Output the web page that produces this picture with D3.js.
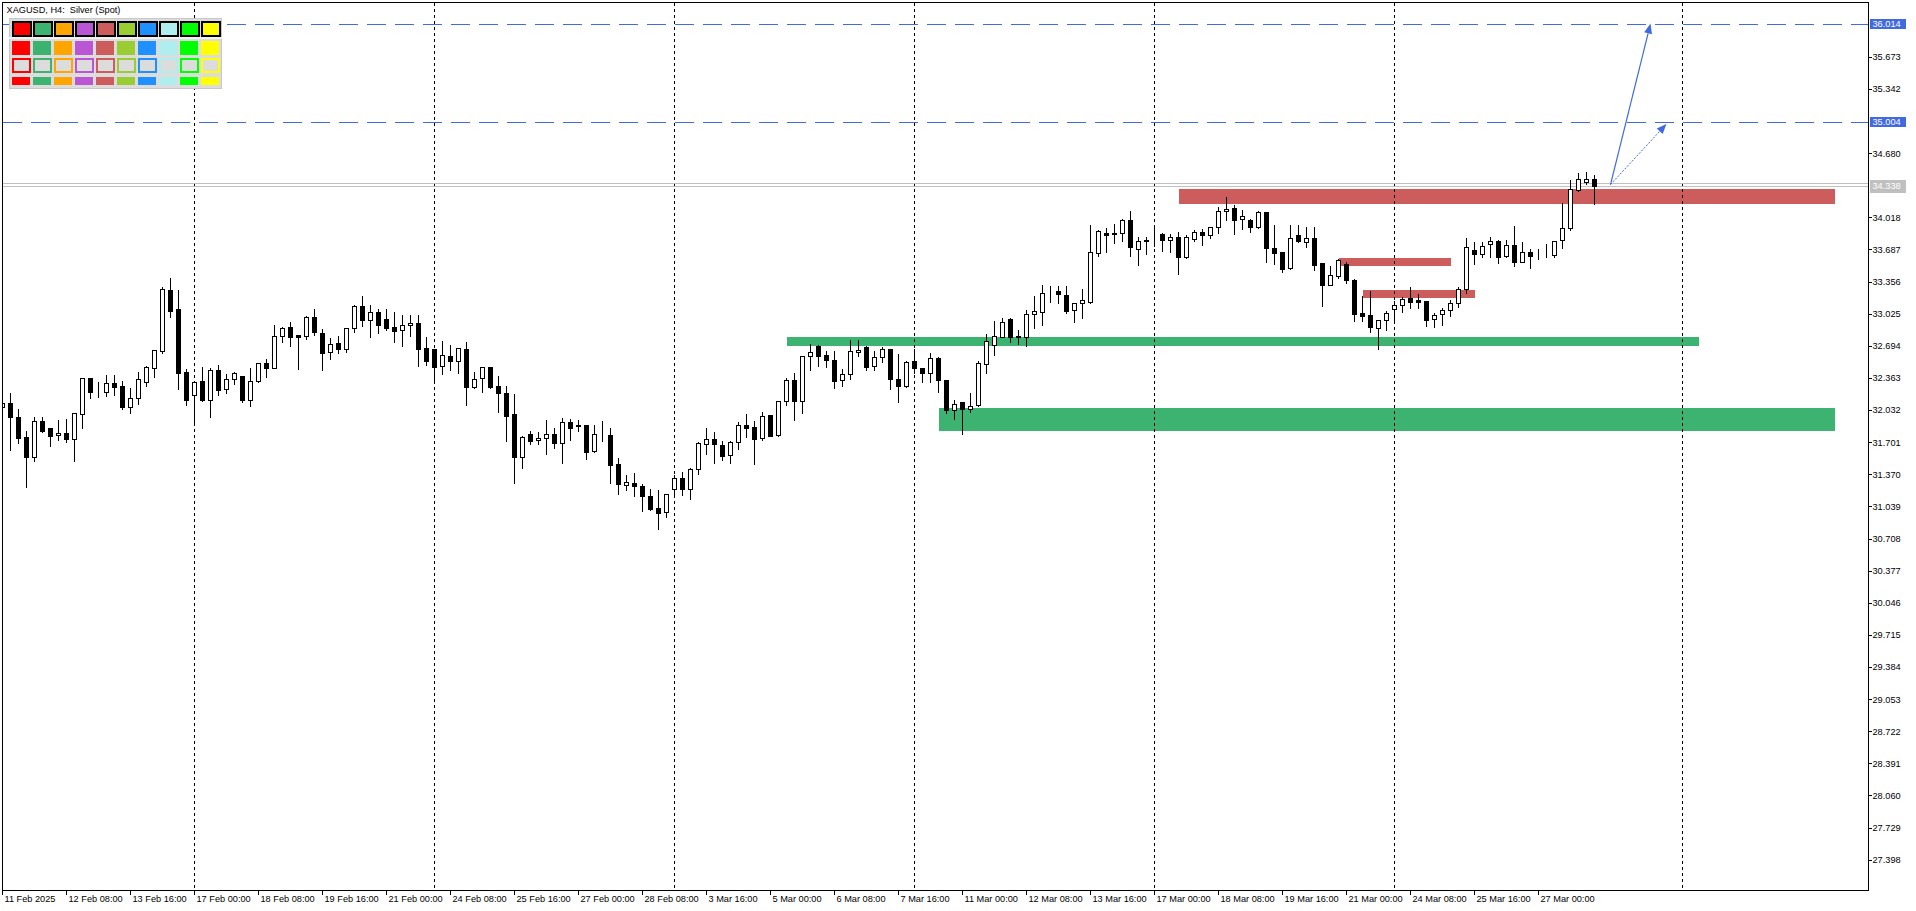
<!DOCTYPE html>
<html><head><meta charset="utf-8">
<script src="https://cdn.jsdelivr.net/npm/d3@7"></script>
<style>
html,body{margin:0;padding:0;background:#fff;overflow:hidden;}
svg{display:block;}
text{font-family:"Liberation Sans",Arial,sans-serif;}
</style></head><body>
<svg id="chart" width="1916" height="911"></svg>
<script>
// ---------------- DATA ----------------
const symbolTitle = "XAGUSD, H4:  Silver (Spot)";

const open = [32.063,32.101,31.957,31.751,31.551,31.916,31.843,31.771,31.792,31.736,
31.994,32.358,32.220,32.220,32.307,32.279,32.066,32.153,32.317,32.468,
32.643,33.266,33.069,32.420,32.190,32.327,32.138,32.444,32.245,32.348,
32.382,32.138,32.331,32.516,32.468,32.791,32.884,32.805,32.797,32.990,
32.826,32.632,32.722,32.664,32.874,33.104,32.962,33.038,32.970,32.887,
32.853,32.904,32.928,32.671,32.660,32.482,32.588,32.540,32.660,32.272,
32.358,32.475,32.279,32.204,31.988,31.545,31.782,31.720,31.741,31.782,
31.695,31.905,31.874,31.874,31.613,31.782,31.775,31.476,31.256,31.280,
31.249,31.146,31.022,30.978,31.215,31.328,31.221,31.421,31.679,31.730,
31.672,31.565,31.699,31.874,31.854,31.740,31.977,31.777,32.121,32.338,
32.121,32.585,32.691,32.596,32.547,32.338,32.399,32.627,32.678,32.482,
32.575,32.657,32.348,32.276,32.534,32.461,32.410,32.564,32.338,32.029,
32.111,32.045,32.080,32.509,32.699,32.784,32.970,32.798,32.781,33.018,
33.039,33.235,33.259,33.214,33.059,33.131,33.148,33.647,33.856,33.853,
33.853,33.987,33.694,33.777,33.843,33.843,33.788,33.812,33.612,33.797,
33.866,33.838,33.915,34.080,34.110,33.997,33.987,33.915,34.069,33.698,
33.657,33.492,33.832,33.766,33.801,33.544,33.324,33.416,33.537,33.372,
33.031,33.007,32.873,32.956,33.069,33.111,33.186,33.166,33.155,32.967,
33.018,33.059,33.131,33.276,33.681,33.637,33.740,33.774,33.622,33.729,
33.554,33.657,33.632,33.632,33.632,33.781,33.904,34.299,34.385,34.412];

const high = [32.110,32.214,32.050,31.826,31.970,31.970,31.856,31.939,31.946,32.014,
32.362,32.368,32.331,32.403,32.403,32.341,32.266,32.434,32.496,32.660,
33.310,33.406,33.279,32.461,32.331,32.485,32.472,32.503,32.410,32.434,
32.386,32.472,32.529,32.564,32.918,32.897,32.949,32.807,33.010,33.082,
32.874,32.787,32.802,32.880,33.125,33.221,33.125,33.080,33.080,33.052,
33.024,33.021,33.021,32.794,32.665,32.753,32.712,32.678,32.743,32.434,
32.475,32.485,32.392,32.289,32.207,31.778,31.826,31.816,31.939,31.857,
31.959,31.953,31.942,31.880,31.887,31.929,31.854,31.548,31.373,31.393,
31.280,31.232,31.215,31.174,31.373,31.404,31.445,31.713,31.857,31.816,
31.723,31.720,31.922,31.998,31.929,32.022,31.985,32.125,32.372,32.423,
32.599,32.722,32.712,32.650,32.650,32.464,32.763,32.763,32.698,32.650,
32.688,32.660,32.615,32.544,32.667,32.472,32.629,32.588,32.348,32.145,
32.115,32.217,32.544,32.822,32.959,32.990,32.990,32.863,33.073,33.214,
33.331,33.324,33.320,33.320,33.134,33.289,33.949,33.894,33.918,33.959,
34.011,34.093,33.825,33.825,33.928,33.863,33.856,33.873,33.846,33.894,
33.907,33.925,34.134,34.240,34.155,34.103,34.011,34.093,34.072,33.949,
33.660,33.949,33.949,33.928,33.928,33.547,33.526,33.595,33.564,33.393,
33.217,33.269,32.956,33.062,33.166,33.207,33.310,33.235,33.158,33.039,
33.093,33.173,33.310,33.815,33.773,33.773,33.825,33.791,33.791,33.938,
33.773,33.701,33.701,33.753,33.773,34.172,34.412,34.481,34.495,34.464];

const low = [32.040,31.620,31.689,31.242,31.510,31.805,31.664,31.723,31.705,31.510,
31.850,32.153,32.166,32.179,32.186,32.042,32.004,32.094,32.279,32.372,
32.622,32.993,32.248,32.080,31.877,32.128,31.963,32.186,32.210,32.303,
32.117,32.076,32.317,32.375,32.462,32.735,32.694,32.454,32.766,32.805,
32.444,32.557,32.622,32.626,32.836,32.900,32.784,32.825,32.856,32.735,
32.691,32.797,32.485,32.495,32.313,32.406,32.444,32.416,32.087,32.262,
32.220,32.255,32.015,31.716,31.283,31.438,31.682,31.679,31.582,31.644,
31.489,31.723,31.819,31.531,31.602,31.716,31.283,31.170,31.211,31.149,
30.994,31.001,30.809,30.933,31.159,31.159,31.118,31.376,31.576,31.489,
31.517,31.489,31.633,31.757,31.479,31.720,31.764,31.767,32.087,31.932,
31.998,32.447,32.488,32.478,32.262,32.282,32.348,32.585,32.447,32.441,
32.529,32.245,32.111,32.266,32.410,32.317,32.323,32.220,31.998,31.936,
31.788,32.012,32.076,32.416,32.601,32.780,32.733,32.715,32.694,32.880,
32.911,33.142,33.135,33.035,32.942,32.983,33.138,33.622,33.663,33.753,
33.777,33.622,33.530,33.643,33.725,33.674,33.663,33.437,33.595,33.777,
33.735,33.807,33.859,33.990,33.849,33.897,33.869,33.904,33.561,33.533,
33.454,33.488,33.763,33.712,33.475,33.107,33.320,33.393,33.344,32.952,
32.952,32.832,32.664,32.856,32.936,33.038,33.086,33.086,32.901,32.890,
32.911,33.004,33.090,33.241,33.540,33.612,33.612,33.550,33.606,33.519,
33.554,33.498,33.591,33.606,33.612,33.705,33.884,34.289,34.361,34.152];

const close = [32.100,31.957,31.747,31.551,31.916,31.819,31.767,31.792,31.736,31.998,
32.358,32.220,32.218,32.307,32.272,32.066,32.153,32.348,32.472,32.647,
33.276,33.055,32.416,32.138,32.317,32.138,32.444,32.241,32.348,32.410,
32.135,32.331,32.513,32.468,32.791,32.873,32.787,32.787,32.989,32.833,
32.622,32.712,32.664,32.874,33.107,32.959,33.038,32.911,32.880,32.849,
32.904,32.925,32.660,32.540,32.478,32.595,32.540,32.671,32.272,32.348,
32.472,32.272,32.204,31.973,31.545,31.751,31.716,31.741,31.782,31.695,
31.905,31.850,31.872,31.602,31.782,31.780,31.468,31.273,31.290,31.246,
31.149,31.012,30.974,31.167,31.328,31.221,31.421,31.689,31.730,31.679,
31.561,31.699,31.874,31.850,31.736,31.967,31.767,32.121,32.338,32.121,
32.585,32.627,32.592,32.544,32.334,32.399,32.637,32.647,32.478,32.575,
32.657,32.348,32.276,32.523,32.461,32.410,32.564,32.338,32.029,32.091,
32.045,32.076,32.513,32.740,32.794,32.936,32.784,32.781,33.018,33.049,
33.235,33.233,33.225,33.055,33.131,33.162,33.657,33.873,33.838,33.850,
33.987,33.715,33.777,33.779,33.841,33.788,33.812,33.612,33.812,33.863,
33.838,33.915,34.080,34.106,33.993,34.028,33.915,34.069,33.698,33.653,
33.485,33.801,33.777,33.801,33.530,33.324,33.420,33.578,33.369,33.024,
33.003,32.884,32.956,33.028,33.111,33.173,33.148,33.148,32.962,33.007,
33.059,33.131,33.276,33.709,33.637,33.719,33.774,33.612,33.729,33.554,
33.657,33.622,33.626,33.626,33.773,33.904,34.306,34.409,34.409,34.338];

// time-axis labels, one every 8 bars starting at bar 0
const timeLabels = ["11 Feb 2025","12 Feb 08:00","13 Feb 16:00","17 Feb 00:00","18 Feb 08:00",
"19 Feb 16:00","21 Feb 00:00","24 Feb 08:00","25 Feb 16:00","27 Feb 00:00","28 Feb 08:00",
"3 Mar 16:00","5 Mar 00:00","6 Mar 08:00","7 Mar 16:00","11 Mar 00:00","12 Mar 08:00",
"13 Mar 16:00","17 Mar 00:00","18 Mar 08:00","19 Mar 16:00","21 Mar 00:00","24 Mar 08:00",
"25 Mar 16:00","27 Mar 00:00"];
const labelEvery = 8;

// week separators (bar index of Monday 00:00)
const separatorBars = [24, 54, 84, 114, 144, 174, 210];

// price scale tick values
const priceTicks = [27.398,27.729,28.060,28.391,28.722,29.053,29.384,29.715,30.046,30.377,
30.708,31.039,31.370,31.701,32.032,32.363,32.694,33.025,33.356,33.687,34.018,34.680,35.342,35.673];

// horizontal target levels
const levelPrices = [36.014, 35.004];
const bidPrice = 34.338;
const askPrice = 34.370;

// supply / demand zones
const zoneStartBar = [147, 167, 170, 98, 117];
const zoneEndBar   = [229, 181, 184, 212, 229];
const zoneTop      = [34.309, 33.599, 33.269, 32.784, 32.053];
const zoneBottom   = [34.155, 33.516, 33.187, 32.694, 31.819];
const zoneType     = ["supply","supply","supply","demand","demand"];

// projection arrows
const arrowStartBar = 201, arrowStartPrice = 34.355;
const arrowEndBar   = [206, 208];
const arrowEndPrice = [36.014, 34.980];

// colour palette panel
const palette = ["#FF0000","#3CB371","#FFA500","#BA55D3","#CD5C5C","#9ACD32","#1E90FF","#AFEEEE","#00FF00","#FFFF00"];

// ---------------- DRAW ----------------
const L = 2.5, T = 2.5, R = 1868.5, B = 890.5;
const svg = d3.select("#chart");

const x = d3.scaleLinear().domain([0, 1]).range([2.5, 10.5]);
const y = d3.scaleLinear().domain([27.398, 35.673]).range([859.7, 56.7]);
const snap = v => Math.round(v) + 0.5;

const plot = svg.append("g");
plot.append("clipPath").attr("id","clip").append("rect")
  .attr("x", L).attr("y", T).attr("width", R - L).attr("height", B - T);
const inner = plot.append("g").attr("clip-path","url(#clip)");

// zones (background)
const zoneColor = {supply:"#CD5C5C", demand:"#3CB371"};
inner.append("g").selectAll("rect").data(zoneType).join("rect")
  .attr("x", (d,i) => Math.round(x(zoneStartBar[i])))
  .attr("width", (d,i) => Math.round(x(zoneEndBar[i])) - Math.round(x(zoneStartBar[i])))
  .attr("y", (d,i) => Math.round(y(zoneTop[i])))
  .attr("height", (d,i) => Math.round(y(zoneBottom[i])) - Math.round(y(zoneTop[i])))
  .attr("fill", d => zoneColor[d])
  .attr("shape-rendering","crispEdges");

// separators
inner.append("g").selectAll("line").data(separatorBars).join("line")
  .attr("x1", d => x(d)).attr("x2", d => x(d))
  .attr("y1", T).attr("y2", B)
  .attr("stroke","#000").attr("stroke-width",1).attr("stroke-dasharray","3,3")
  .attr("shape-rendering","crispEdges");

// bid / ask lines
inner.append("g").selectAll("line").data([askPrice, bidPrice]).join("line")
  .attr("x1", L).attr("x2", R)
  .attr("y1", d => snap(y(d))).attr("y2", d => snap(y(d)))
  .attr("stroke","#C0C0C0").attr("stroke-width",1)
  .attr("shape-rendering","crispEdges");

// candles
const idx = d3.range(open.length);
const cg = inner.append("g").attr("shape-rendering","crispEdges");
cg.selectAll("line").data(idx).join("line")
  .attr("x1", i => x(i)).attr("x2", i => x(i))
  .attr("y1", i => snap(y(high[i]))).attr("y2", i => snap(y(low[i])))
  .attr("stroke","#000").attr("stroke-width",1);
cg.selectAll("rect").data(idx).join("rect")
  .attr("x", i => x(i) - 2).attr("width", 4)
  .attr("y", i => snap(y(Math.max(open[i], close[i]))))
  .attr("height", i => Math.max(0, snap(y(Math.min(open[i], close[i]))) - snap(y(Math.max(open[i], close[i])))))
  .attr("fill", i => close[i] >= open[i] ? "#fff" : "#000")
  .attr("stroke","#000").attr("stroke-width",1);

// colour palette panel
const pg = plot.append("g").attr("shape-rendering","crispEdges");
pg.append("rect").attr("x",9).attr("y",18).attr("width",213).attr("height",71).attr("fill","#C8C8C8");
pg.append("rect").attr("x",10).attr("y",19).attr("width",211).attr("height",18).attr("fill","#DCDCDC");
pg.append("rect").attr("x",10).attr("y",39).attr("width",211).attr("height",49).attr("fill","#DCDCDC");
pg.append("rect").attr("x",9).attr("y",37).attr("width",213).attr("height",2).attr("fill","#F0F0F0");
pg.selectAll(".s1").data(palette).join("rect").attr("class","s1")
  .attr("x",(d,k)=>13+21*k).attr("y",22).attr("width",18).attr("height",14)
  .attr("fill",d=>d).attr("stroke","#000").attr("stroke-width",2);
pg.selectAll(".s2").data(palette).join("rect").attr("class","s2")
  .attr("x",(d,k)=>12+21*k).attr("y",41).attr("width",18).attr("height",14).attr("fill",d=>d);
pg.selectAll(".s3").data(palette).join("rect").attr("class","s3")
  .attr("x",(d,k)=>13+21*k).attr("y",59).attr("width",17).attr("height",13)
  .attr("fill","#DCDCDC").attr("stroke",d=>d).attr("stroke-width",2);
pg.selectAll(".s4").data(palette).join("rect").attr("class","s4")
  .attr("x",(d,k)=>12+21*k).attr("y",77).attr("width",18).attr("height",8).attr("fill",d=>d);

// horizontal dashed target lines
inner.append("g").selectAll("line").data(levelPrices).join("line")
  .attr("x1", L).attr("x2", R)
  .attr("y1", d => snap(y(d))).attr("y2", d => snap(y(d)))
  .attr("stroke","#4169E1").attr("stroke-width",1).attr("stroke-dasharray","19,9")
  .attr("shape-rendering","crispEdges");

// arrows
const ag = inner.append("g");
arrowEndBar.forEach((eb, k) => {
  const x1 = x(arrowStartBar), y1 = y(arrowStartPrice);
  const x2 = x(eb), y2 = y(arrowEndPrice[k]);
  const ang = Math.atan2(y2 - y1, x2 - x1);
  const len = 10, hw = 4;
  const bx = x2 - len*Math.cos(ang), by = y2 - len*Math.sin(ang);
  ag.append("line").attr("x1",x1).attr("y1",y1).attr("x2",bx).attr("y2",by)
    .attr("stroke","#4169E1").attr("stroke-width", k === 0 ? 1.2 : 1)
    .attr("stroke-dasharray", k === 0 ? null : "2,1.5");
  const px = -Math.sin(ang), py = Math.cos(ang);
  ag.append("path")
    .attr("d", `M${x2},${y2}L${bx+hw*px},${by+hw*py}L${bx-hw*px},${by-hw*py}Z`)
    .attr("fill","#4169E1");
});

// frame
svg.append("rect").attr("x",L).attr("y",T).attr("width",R-L).attr("height",B-T)
  .attr("fill","none").attr("stroke","#000").attr("stroke-width",1).attr("shape-rendering","crispEdges");

// title
svg.append("text").attr("x",6.5).attr("y",13).attr("font-size","9.2px").attr("fill","#000")
  .style("white-space","pre").text(symbolTitle);

// price axis
const yAxis = d3.axisRight(y).tickValues(priceTicks).tickFormat(d3.format(".3f")).tickSize(3).tickPadding(1);
const yg = svg.append("g").attr("transform",`translate(${R},0)`).call(yAxis);
yg.select(".domain").remove();
yg.selectAll(".tick line").attr("stroke","#000").attr("shape-rendering","crispEdges");
yg.selectAll(".tick text").attr("font-size","9.2px").attr("font-family","Liberation Sans, Arial, sans-serif").attr("fill","#000");

// highlighted price labels
const hl = [
  {p: levelPrices[0], bg:"#4169E1", h:10},
  {p: levelPrices[1], bg:"#4169E1", h:10},
  {p: bidPrice, bg:"#C0C0C0", h:13}
];
const hg = svg.append("g");
hg.selectAll("rect").data(hl).join("rect")
  .attr("x", R + 1).attr("width", 36)
  .attr("y", d => Math.round(y(d.p) - d.h/2)).attr("height", d => d.h)
  .attr("fill", d => d.bg).attr("shape-rendering","crispEdges");
hg.selectAll("text").data(hl).join("text")
  .attr("x", R + 4).attr("y", d => y(d.p)).attr("dy","0.34em")
  .attr("font-size","9.2px").attr("fill","#fff")
  .text(d => d3.format(".3f")(d.p));

// time axis
const tickBars = timeLabels.map((d,i) => i*labelEvery);
const xAxis = d3.axisBottom(x).tickValues(tickBars).tickFormat((d,i) => timeLabels[i]).tickSize(4).tickPadding(2);
const xg = svg.append("g").attr("transform",`translate(-0.5,${B})`).call(xAxis);
xg.select(".domain").remove();
xg.selectAll(".tick line").attr("stroke","#000").attr("shape-rendering","crispEdges");
xg.selectAll(".tick text").attr("text-anchor","start").attr("x",2).attr("y",4).attr("dy","0.85em")
  .attr("font-size","9.2px").attr("font-family","Liberation Sans, Arial, sans-serif").attr("fill","#000");
</script>
</body></html>
